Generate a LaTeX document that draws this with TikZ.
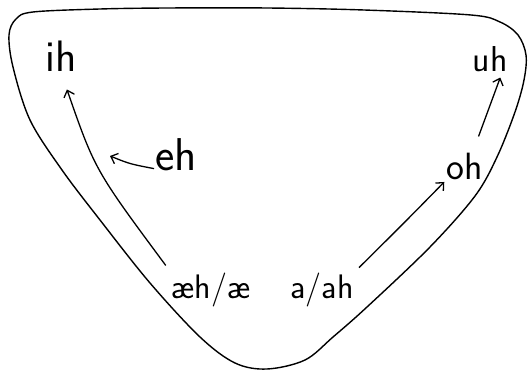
\documentclass[tikz,border=0pt]{standalone}
\usepackage{tikz}
\usetikzlibrary{arrows.meta}

\begin{document}
\begin{tikzpicture}[x=1pt, y=-1pt,
    vowel/.style={inner sep=1pt, font=\sffamily},
    arr/.style={-{Straight Barb[length=6pt,width=11pt]}, line width=1.3pt},
    rim/.style={line width=1.4pt, line join=round}
]
\useasboundingbox (0,0) rectangle (529,371);

% vowel space outline
\draw[rim] plot[smooth cycle, tension=0.55] coordinates {
    (33,12) (100,9) (167,8) (267,8) (364,10) (471,15) (500,22) (518,35)
    (526,55) (524,80) (515,112) (497,157) (475,196) (430,247) (367,307)
    (333,337) (305,360) (267,369) (235,363) (200,337) (150,283)
    (100,220) (62,170) (30,120) (13,67) (9,35) (16,19)};

% vowels
\node[vowel, font=\sffamily\fontsize{44}{44}\selectfont] (ih) at (61,56) {ih};
\node[vowel, font=\sffamily\fontsize{36}{36}\selectfont] (uh) at (490,59) {uh};
\node[vowel, font=\sffamily\fontsize{46}{46}\selectfont] (eh) at (176,155) {eh};
\node[vowel, font=\sffamily\fontsize{38}{38}\selectfont] (oh) at (465,166) {oh};
\node[vowel, font=\sffamily\fontsize{34}{34}\selectfont] (ae) at (211,290) {æh/æ};
\node[vowel, font=\sffamily\fontsize{34}{34}\selectfont] (ah) at (322,290) {a/ah};
\coordinate (ehtip) at (110,156);

% shifts
\draw[arr, shorten <=8pt, shorten >=18pt] (ae.north west) .. controls (95,170) .. (ih.south);
\draw[arr] (eh.mid west) .. controls (130,164) .. (ehtip);
\draw[arr, shorten <=6pt, shorten >=2pt] (ah.north east) .. controls (405,222) .. (oh.south west);
\draw[arr, shorten <=16pt, shorten >=5pt] ([xshift=8pt]oh.north) -- ([xshift=12pt]uh.south);
\end{tikzpicture}
\end{document}
